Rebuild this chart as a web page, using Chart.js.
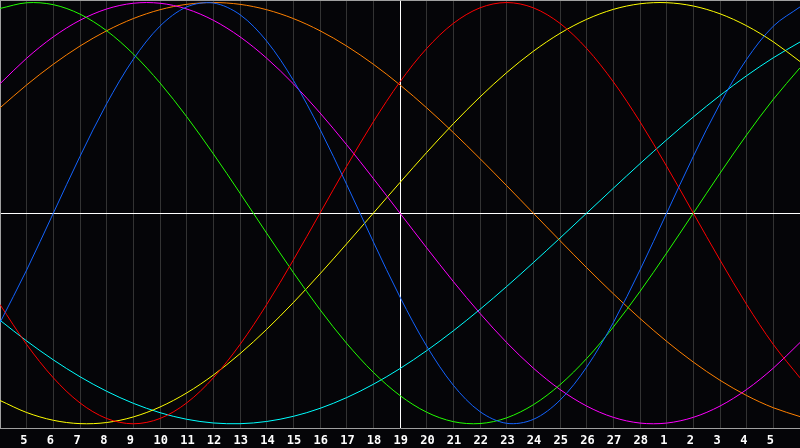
<!DOCTYPE html>
<html><head><meta charset="utf-8">
<script src="https://cdn.jsdelivr.net/npm/chart.js@4/dist/chart.umd.min.js"></script>
<style>html,body{margin:0;padding:0;background:#050508;}canvas{display:block;}</style>
</head><body>
<canvas id="c" width="800" height="448"></canvas>
<script>
const dayLabels = ['4','5','6','7','8','9','10','11','12','13','14','15','16','17','18','19','20','21','22','23','24','25','26','27','28','1','2','3','4','5','6'];

// 23-day cycle (blue)
const physical = [-0.5196,-0.2698,0,0.2698,0.5196,0.7308,0.8879,0.9791,0.9977,0.9423,0.8170,0.6310,0.3984,0.1362,-0.1362,-0.3984,-0.6310,-0.8170,-0.9423,-0.9977,-0.9791,-0.8879,-0.7308,-0.5196,-0.2698,0,0.2698,0.5196,0.7308,0.8879,0.9791];
// 28-day cycle (red)
const emotional = [-0.4339,-0.6235,-0.7818,-0.9010,-0.9749,-1,-0.9749,-0.9010,-0.7818,-0.6235,-0.4339,-0.2225,0,0.2225,0.4339,0.6235,0.7818,0.9010,0.9749,1,0.9749,0.9010,0.7818,0.6235,0.4339,0.2225,0,-0.2225,-0.4339,-0.6235,-0.7818];
// 33-day cycle (green)
const intellectual = [0.9718,0.9989,0.9898,0.9450,0.8660,0.7557,0.6182,0.4582,0.2817,0.0951,-0.0951,-0.2817,-0.4582,-0.6182,-0.7557,-0.8660,-0.9450,-0.9898,-0.9989,-0.9718,-0.9096,-0.8146,-0.6901,-0.5406,-0.3717,-0.1893,0,0.1893,0.3717,0.5406,0.6901];
// 38-day cycle (magenta)
const intuitive = [0.6142,0.7357,0.8372,0.9158,0.9694,0.9966,0.9966,0.9694,0.9158,0.8372,0.7357,0.6142,0.4759,0.3247,0.1646,0,-0.1646,-0.3247,-0.4759,-0.6142,-0.7357,-0.8372,-0.9158,-0.9694,-0.9966,-0.9966,-0.9694,-0.9158,-0.8372,-0.7357,-0.6142];
// 43-day cycle (yellow)
const aesthetic = [-0.8894,-0.9465,-0.9834,-0.9993,-0.9940,-0.9675,-0.9203,-0.8536,-0.7686,-0.6673,-0.5517,-0.4245,-0.2881,-0.1456,0,0.1456,0.2881,0.4245,0.5517,0.6673,0.7686,0.8536,0.9203,0.9675,0.9940,0.9993,0.9834,0.9465,0.8894,0.8133,0.7199];
// 48-day cycle (orange)
const awareness = [0.5,0.6088,0.7071,0.7934,0.8660,0.9239,0.9659,0.9914,1,0.9914,0.9659,0.9239,0.8660,0.7934,0.7071,0.6088,0.5,0.3827,0.2588,0.1305,0,-0.1305,-0.2588,-0.3827,-0.5,-0.6088,-0.7071,-0.7934,-0.8660,-0.9239,-0.9659];
// 53-day cycle (cyan)
const spiritual = [-0.5085,-0.6068,-0.6966,-0.7767,-0.8456,-0.9028,-0.9473,-0.9786,-0.9961,-0.9996,-0.9890,-0.9646,-0.9267,-0.8757,-0.8125,-0.7378,-0.6528,-0.5586,-0.4566,-0.3482,-0.2349,-0.1183,0,0.1183,0.2349,0.3482,0.4566,0.5586,0.6528,0.7378,0.8125];

const seriesNames = ['Physical','Emotional','Intellectual','Intuitive','Aesthetic','Awareness','Spiritual'];
const seriesData = [physical, emotional, intellectual, intuitive, aesthetic, awareness, spiritual];
const seriesColors = ['#1464ff','#ff0000','#22ff00','#ff00ff','#ffff00','#ff8000','#00ffff'];

const frameGray = '#a0a0a0';
const gridGray = '#333333';
const todayIndex = 15;

new Chart(document.getElementById('c'), {
  type: 'line',
  data: {
    labels: dayLabels,
    datasets: seriesData.map((d, i) => ({
      label: seriesNames[i],
      data: d,
      borderColor: seriesColors[i],
      borderWidth: 1,
      pointRadius: 0,
      tension: 0.33,
      fill: false
    }))
  },
  options: {
    responsive: false,
    animation: false,
    layout: { padding: 0 },
    plugins: { legend: { display: false }, tooltip: { enabled: false } },
    scales: {
      x: {
        type: 'category',
        position: 'bottom',
        offset: false,
        grid: {
          drawTicks: true,
          tickLength: 6,
          tickColor: 'transparent',
          lineWidth: 1,
          color: (ctx) => ctx.index === todayIndex ? '#ffffff' : (ctx.index === 0 ? 'transparent' : gridGray)
        },
        border: { display: true, color: frameGray, width: 1 },
        ticks: {
          autoSkip: false,
          maxRotation: 0,
          minRotation: 0,
          align: 'start',
          labelOffset: -6.5,
          padding: 0,
          color: '#ffffff',
          font: { family: 'DejaVu Sans Mono', size: 12, weight: 'bold' },
          callback: function (val, idx) {
            return (idx === 0 || idx === dayLabels.length - 1) ? '' : dayLabels[idx];
          }
        },
        afterFit: (s) => { s.height = 20; }
      },
      xTop: {
        type: 'category',
        position: 'top',
        offset: false,
        grid: { display: false, drawTicks: false },
        border: { display: true, color: frameGray, width: 1 },
        ticks: { display: false, padding: 0 },
        afterFit: (s) => { s.height = 0; }
      },
      y: {
        type: 'linear',
        min: -1.02,
        max: 1.012,
        grid: {
          drawTicks: false,
          lineWidth: 1,
          color: (ctx) => (ctx.tick && ctx.tick.value === 0) ? '#ffffff' : 'transparent'
        },
        border: { display: true, color: frameGray, width: 1 },
        ticks: { display: false, padding: 0 },
        afterBuildTicks: (s) => { s.ticks = [{ value: 0 }]; },
        afterFit: (s) => { s.width = 0; }
      }
    }
  }
});
</script>
</body></html>
